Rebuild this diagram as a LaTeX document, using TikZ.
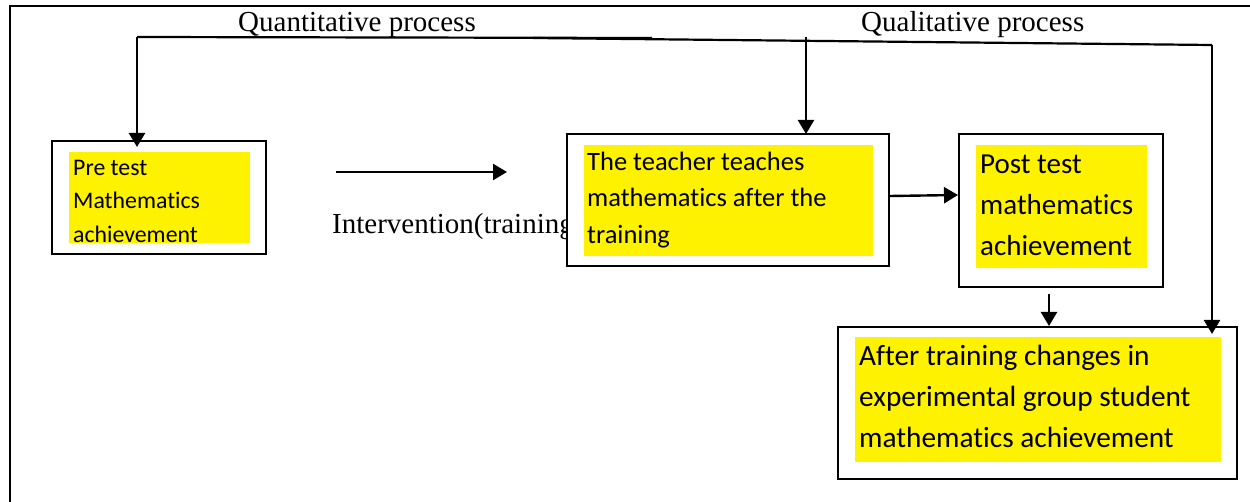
\documentclass[tikz,border=0pt]{standalone}
\usepackage{fontspec}
\setmainfont{Liberation Serif}
\newfontfamily\carlito[Ligatures={NoCommon,NoRare}]{Carlito}
\usetikzlibrary{arrows.meta}
\begin{document}
\begin{tikzpicture}[x=1pt,y=-1pt,
  boxnode/.style={draw=black, line width=2pt, fill=white, rectangle, inner sep=0pt},
  hl/.style={fill=yellow, rectangle, inner sep=0pt},
  txt/.style={anchor=north west, align=left, inner sep=0pt},
  lbl/.style={anchor=base west, inner sep=0pt, font=\fontsize{29}{34}\selectfont},
  ln/.style={line width=2.2pt},
  arr/.style={line width=2.4pt, -{Triangle[length=14pt,width=16pt]}}
]
\useasboundingbox (0,0) rectangle (1250,502);
% outer frame
\draw[line width=2.6pt] (1250,6) -- (10,6) -- (10,502);

% process labels
\node[lbl] (quant) at (238,32) {Quantitative process};
\node[lbl] (qual) at (861,32) {Qualitative process};

% top lines
\coordinate (qnL) at (137,37);
\coordinate (qnR) at (652,38);
\coordinate (qlL) at (533,38);
\coordinate (qlM) at (806,37);
\coordinate (qlR) at (1212,45);
\draw[ln] (qnL) -- (qnR);
\draw[ln] (qlL) -- (qlR);

% intervention
\node[lbl] (interv) at (332,234) {Intervention(training)};
\coordinate (iv1) at (336,172);
\coordinate (iv2) at (507,172);
\draw[arr] (iv1) -- (iv2);

% boxes
\node[boxnode, minimum width=214pt, minimum height=113pt] (b1) at (159,197.5) {};
\node[boxnode, minimum width=322pt, minimum height=132pt] (b2) at (728,200) {};
\node[boxnode, minimum width=204pt, minimum height=153pt] (b3) at (1061,210.5) {};
\node[boxnode, minimum width=399pt, minimum height=152pt] (b4) at (1037.5,403) {};

% highlights
\node[hl, minimum width=181pt, minimum height=91pt] (y1) at (159.5,197.5) {};
\node[hl, minimum width=289pt, minimum height=111pt] (y2) at (728.5,200.5) {};
\node[hl, minimum width=171pt, minimum height=123pt] (y3) at (1061.5,206.5) {};
\node[hl, minimum width=366pt, minimum height=125pt] (y4) at (1038,399.5) {};

% texts
\node[txt, font=\carlito\fontsize{23.8}{33.5}\selectfont] (t1) at (73,145)
  {\rule{0pt}{30pt}Pre test\\Mathematics\\achievement};
\node[txt, font=\carlito\fontsize{26.5}{36.5}\selectfont] (t2) at (587,140)
  {\rule{0pt}{30pt}The teacher teaches\\mathematics after the\\training};
\node[txt, font=\carlito\fontsize{29}{41}\selectfont] (t3) at (980,143)
  {\rule{0pt}{30pt}Post test\\mathematics\\achievement};
\node[txt, font=\carlito\fontsize{29.3}{41}\selectfont] (t4) at (859,335)
  {\rule{0pt}{30pt}After training changes in\\experimental group student\\mathematics achievement};

% arrows
\draw[arr, shorten >=-7pt] (qnL) -- (qnL |- b1.north);
\draw[arr, shorten >=-1pt] (qlM) -- (qlM |- b2.north);
\draw[arr, shorten >=-8pt] (qlR) -- (qlR |- b4.north);
\draw[arr] (b2.east |- 0,196) -- (b3.west |- 0,195);
\draw[arr, shorten <=7pt] (1049,287) coordinate (s34) -- (s34 |- b4.north);
\end{tikzpicture}
\end{document}
